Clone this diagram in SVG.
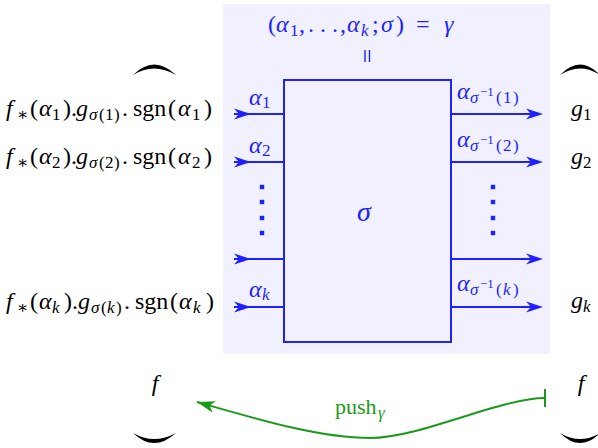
<svg xmlns="http://www.w3.org/2000/svg" xmlns:xlink="http://www.w3.org/1999/xlink" width="598" height="448" viewBox="0 0 598 448" font-family="'Liberation Serif', 'DejaVu Serif', serif">
<style>
.m{font-family:"Liberation Serif","DejaVu Serif",serif;font-size:24px;fill:#000}
.b{fill:#1f1fff}
.i{font-style:italic}
.s{font-size:17px}
.ss{font-size:13px}
.wire{stroke:#1f1fff;stroke-width:2;fill:none}
.arc{fill:#000}
</style>
<defs>
<path id="ah" d="M0,0 L-17,-5.5 L-12,0 L-17,5.5 Z" fill="#1f1fff"/>
<rect id="dot" x="-2.2" y="-2.2" width="4.4" height="4.4" fill="#1f1fff"/>
<marker id="gh" markerWidth="20" markerHeight="14" refX="0" refY="0" viewBox="-19 -7 20 14" orient="auto" markerUnits="userSpaceOnUse">
<path d="M0,0 L-18,-6 L-13,0 L-18,6 Z" fill="#1a9a1a"/>
</marker>
</defs>

<g id="panel"><rect x="223" y="4" width="327" height="350" fill="#f0f0ff"/></g>

<g id="gamma">
<text class="m b" y="32"><tspan x="268">(</tspan><tspan x="276" class="i">α</tspan><tspan x="290" class="s" dy="4">1</tspan><tspan x="299" dy="-4">,</tspan><tspan x="308">. . .</tspan><tspan x="340">,</tspan><tspan x="347" class="i">α</tspan><tspan x="361" class="s i" dy="4">k</tspan><tspan x="372" dy="-4">;</tspan><tspan x="381" class="i">σ</tspan><tspan x="396">)</tspan><tspan x="416">=</tspan><tspan x="444" class="i">γ</tspan></text>
<line x1="365" y1="50" x2="365" y2="62" stroke="#1f1fff" stroke-width="1.4"/>
<line x1="369.5" y1="50" x2="369.5" y2="62" stroke="#1f1fff" stroke-width="1.4"/>
</g>

<g id="sigma">
<rect x="284" y="80" width="167" height="262" class="wire"/>
<text class="m b i" x="364" y="221" text-anchor="middle" style="font-size:28px">σ</text>
</g>

<g id="connectors">
<line class="wire" x1="234" y1="114" x2="284" y2="114"/>
<line class="wire" x1="234" y1="162" x2="284" y2="162"/>
<line class="wire" x1="234" y1="259" x2="284" y2="259"/>
<line class="wire" x1="234" y1="307" x2="284" y2="307"/>
<use xlink:href="#ah" x="251" y="114"/>
<use xlink:href="#ah" x="251" y="162"/>
<use xlink:href="#ah" x="251" y="259"/>
<use xlink:href="#ah" x="251" y="307"/>
<line class="wire" x1="451" y1="114" x2="538" y2="114"/>
<line class="wire" x1="451" y1="162" x2="538" y2="162"/>
<line class="wire" x1="451" y1="259" x2="538" y2="259"/>
<line class="wire" x1="451" y1="307" x2="538" y2="307"/>
<use xlink:href="#ah" x="543" y="114"/>
<use xlink:href="#ah" x="543" y="162"/>
<use xlink:href="#ah" x="543" y="259"/>
<use xlink:href="#ah" x="543" y="307"/>
<path d="M545,398 C500,398 420,438 370,438 C320,438 260,420 197,402" fill="none" stroke="#1a9a1a" stroke-width="2" marker-end="url(#gh)"/>
<line x1="545" y1="389" x2="545" y2="407" stroke="#1a9a1a" stroke-width="2"/>
</g>

<g id="wire-labels">
<text class="m b" y="105"><tspan x="249" class="i">α</tspan><tspan x="262" class="s" dy="3">1</tspan></text>
<text class="m b" y="153"><tspan x="249" class="i">α</tspan><tspan x="262" class="s" dy="3">2</tspan></text>
<text class="m b" y="297"><tspan x="249" class="i">α</tspan><tspan x="262" class="s i" dy="3">k</tspan></text>
<text class="m b" y="99"><tspan x="457" class="i">α</tspan><tspan x="470" class="s i" dy="4">σ</tspan><tspan x="480" class="ss" dy="-7">−1</tspan><tspan x="496" class="s" dy="7">(</tspan><tspan x="503" class="s">1</tspan><tspan x="513" class="s">)</tspan></text>
<text class="m b" y="147"><tspan x="457" class="i">α</tspan><tspan x="470" class="s i" dy="4">σ</tspan><tspan x="480" class="ss" dy="-7">−1</tspan><tspan x="496" class="s" dy="7">(</tspan><tspan x="503" class="s">2</tspan><tspan x="513" class="s">)</tspan></text>
<text class="m b" y="291"><tspan x="457" class="i">α</tspan><tspan x="470" class="s i" dy="4">σ</tspan><tspan x="480" class="ss" dy="-7">−1</tspan><tspan x="496" class="s" dy="7">(</tspan><tspan x="503" class="s i">k</tspan><tspan x="513" class="s">)</tspan></text>
</g>

<g id="dots">
<use xlink:href="#dot" x="262" y="187"/><use xlink:href="#dot" x="262" y="202"/><use xlink:href="#dot" x="262" y="218"/><use xlink:href="#dot" x="262" y="233"/>
<use xlink:href="#dot" x="493" y="187"/><use xlink:href="#dot" x="493" y="202"/><use xlink:href="#dot" x="493" y="218"/><use xlink:href="#dot" x="493" y="233"/>
</g>

<g id="left-terms">
<text class="m" y="116"><tspan x="6" class="i">f</tspan><tspan x="17" class="s" dy="4">∗</tspan><tspan x="30" dy="-4">(</tspan><tspan x="39" class="i">α</tspan><tspan x="52" class="s" dy="4">1</tspan><tspan x="63" dy="-4">)</tspan><tspan x="71">.</tspan><tspan x="76" class="i">g</tspan><tspan x="89" class="s i" dy="4">σ</tspan><tspan x="99" class="s">(</tspan><tspan x="105" class="s">1</tspan><tspan x="114" class="s">)</tspan><tspan x="122" dy="-4">.</tspan><tspan x="133">sgn</tspan><tspan x="168">(</tspan><tspan x="178" class="i">α</tspan><tspan x="192" class="s" dy="4">1</tspan><tspan x="204" dy="-4">)</tspan></text>
<text class="m" y="164"><tspan x="6" class="i">f</tspan><tspan x="17" class="s" dy="4">∗</tspan><tspan x="30" dy="-4">(</tspan><tspan x="39" class="i">α</tspan><tspan x="52" class="s" dy="4">2</tspan><tspan x="63" dy="-4">)</tspan><tspan x="71">.</tspan><tspan x="76" class="i">g</tspan><tspan x="89" class="s i" dy="4">σ</tspan><tspan x="99" class="s">(</tspan><tspan x="105" class="s">2</tspan><tspan x="114" class="s">)</tspan><tspan x="122" dy="-4">.</tspan><tspan x="133">sgn</tspan><tspan x="168">(</tspan><tspan x="178" class="i">α</tspan><tspan x="192" class="s" dy="4">2</tspan><tspan x="204" dy="-4">)</tspan></text>
<text class="m" y="309"><tspan x="6" class="i">f</tspan><tspan x="17" class="s" dy="4">∗</tspan><tspan x="30" dy="-4">(</tspan><tspan x="39" class="i">α</tspan><tspan x="52" class="s i" dy="4">k</tspan><tspan x="64" dy="-4">)</tspan><tspan x="72">.</tspan><tspan x="78" class="i">g</tspan><tspan x="91" class="s i" dy="4">σ</tspan><tspan x="101" class="s">(</tspan><tspan x="107" class="s i">k</tspan><tspan x="116" class="s">)</tspan><tspan x="124" dy="-4">.</tspan><tspan x="135">sgn</tspan><tspan x="170">(</tspan><tspan x="179" class="i">α</tspan><tspan x="193" class="s i" dy="4">k</tspan><tspan x="206" dy="-4">)</tspan></text>
</g>

<g id="right-terms">
<text class="m" y="116"><tspan x="571" class="i">g</tspan><tspan x="583" class="s" dy="4">1</tspan></text>
<text class="m" y="164"><tspan x="571" class="i">g</tspan><tspan x="583" class="s" dy="4">2</tspan></text>
<text class="m" y="308"><tspan x="571" class="i">g</tspan><tspan x="583" class="s i" dy="4">k</tspan></text>
</g>

<g id="brackets">
<path class="arc" d="M133,75 Q154,54 176,75 Q154,62 133,75 Z"/>
<path class="arc" d="M560,75 Q580,54 600,75 Q580,62 560,75 Z"/>
<path class="arc" d="M133,433 Q154,453 176,433 Q154,445 133,433 Z"/>
<path class="arc" d="M560,433 Q580,453 600,433 Q580,445 560,433 Z"/>
</g>

<g id="f-left"><text class="m i" x="155" y="391" text-anchor="middle">f</text></g>
<g id="f-right"><text class="m i" x="581" y="391" text-anchor="middle">f</text></g>

<g id="push-label">
<text class="m" y="414" style="fill:#1a9a1a;font-size:22px"><tspan x="335">push</tspan><tspan x="378" class="s i" dy="4">γ</tspan></text>
</g>
</svg>
